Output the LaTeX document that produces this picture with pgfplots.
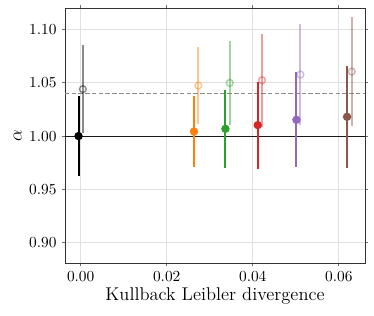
\documentclass[border=0pt]{standalone}
\usepackage{pgfplots}
\pgfplotsset{compat=1.18}
\definecolor{taborange}{HTML}{FF7F0E}
\definecolor{tabgreen}{HTML}{2CA02C}
\definecolor{tabred}{HTML}{D62728}
\definecolor{tabpurple}{HTML}{9467BD}
\definecolor{tabbrown}{HTML}{8C564B}
\definecolor{axgrey}{HTML}{333333}
\begin{document}
\begin{tikzpicture}
\path[use as bounding box] (-42.25pt,-33.8pt) rectangle (200.85pt,171.2pt);
\begin{axis}[
  at={(0,0)}, anchor=south west,
  scale only axis, width=195pt, height=166pt,
  xmin=-0.00365, xmax=0.0661,
  ymin=0.8803, ymax=1.1204,
  xtick={0,0.02,0.04,0.06},
  ytick={0.90,0.95,1.00,1.05,1.10},
  xticklabel style={/pgf/number format/.cd,fixed,fixed zerofill,precision=2},
  yticklabel style={/pgf/number format/.cd,fixed,fixed zerofill,precision=2},
  scaled x ticks=false,
  grid=major,
  major grid style={draw=black!12, line width=0.6pt},
  axis line style={draw=axgrey, line width=0.6pt},
  tick style={draw=axgrey!70, line width=0.5pt},
  tick align=outside, major tick length=2pt,
  xlabel={\large Kullback Leibler divergence},
  ylabel={\large $\alpha$},
  xlabel style={yshift=3pt},
  ylabel style={yshift=-2pt},
  error bars/error mark=none,
  lt/.style={only marks, #1, opacity=0.45, mark=o, mark size=2.2pt, line width=0.9pt,
    error bars/.cd, y dir=both, y explicit, error bar style={line width=1.25pt, solid}},
  dk/.style={only marks, #1, mark=*, mark size=2.2pt, line width=1pt,
    error bars/.cd, y dir=both, y explicit, error bar style={line width=1.25pt, solid}},
]
\addplot[black!45, dash pattern=on 3pt off 1.4pt, line width=0.8pt, forget plot] coordinates {(-0.01,1.04) (0.07,1.04)};
\addplot[black!90, line width=0.7pt, forget plot] coordinates {(-0.01,1.0) (0.07,1.0)};

% light (open) series
\addplot[lt=black] coordinates {(0.0005,1.0441) +- (0,0.0414)};
\addplot[lt=taborange] coordinates {(0.02737,1.0475) +- (0,0.0362)};
\addplot[lt=tabgreen] coordinates {(0.03465,1.0500) +- (0,0.0394)};
\addplot[lt=tabred] coordinates {(0.04216,1.0525) +- (0,0.0439)};
\addplot[lt=tabpurple] coordinates {(0.05109,1.0578) +- (0,0.0475)};
\addplot[lt=tabbrown] coordinates {(0.06302,1.0606) +- (0,0.0516)};

% solid (filled) series
\addplot[dk=black] coordinates {(-0.0005,1.0000) +- (0,0.0373)};
\addplot[dk=taborange] coordinates {(0.02635,1.0043) +- (0,0.0336)};
\addplot[dk=tabgreen] coordinates {(0.03365,1.0068) +- (0,0.0364)};
\addplot[dk=tabred] coordinates {(0.04116,1.0103) +- (0,0.0408)};
\addplot[dk=tabpurple] coordinates {(0.05016,1.0153) +- (0,0.0448)};
\addplot[dk=tabbrown] coordinates {(0.06193,1.0181) +- (0,0.0481)};
\end{axis}
\end{tikzpicture}
\end{document}
